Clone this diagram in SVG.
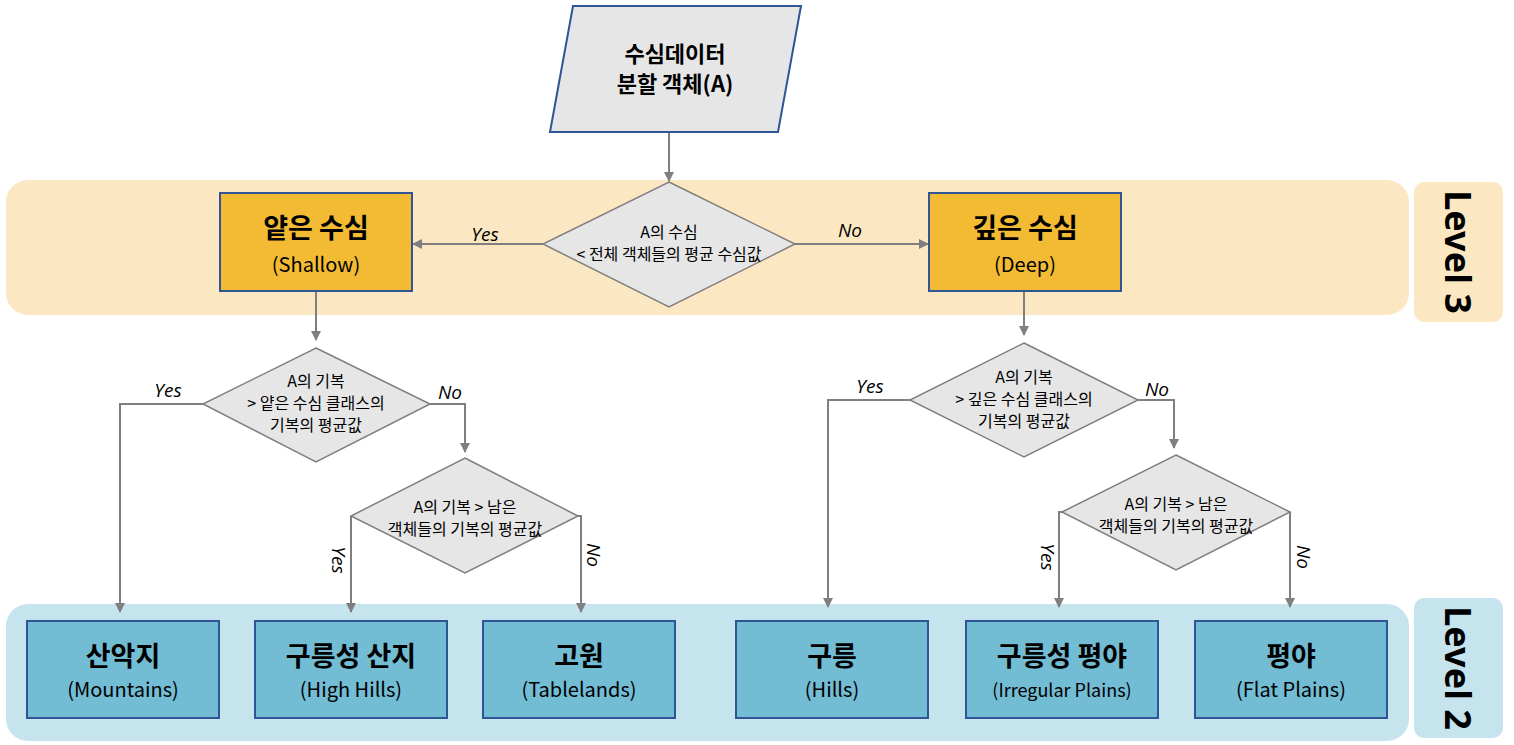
<svg xmlns="http://www.w3.org/2000/svg" width="1514" height="745" viewBox="0 0 1514 745">
<style>
text{font-family:"Noto Sans CJK KR","Noto Sans",sans-serif;text-anchor:middle;fill:#000}
.dia{fill:#e6e6e6;stroke:#7f7f7f;stroke-width:1.5}
.box3{fill:#f2bb33;stroke:#2f5597;stroke-width:2}
.box2{fill:#72bcd4;stroke:#2f5597;stroke-width:2}
.big{font-size:27px;font-weight:bold}
.sub{font-size:20px}
.dt{font-size:16px}
.lbl{font-size:19px;font-style:italic;font-family:"Open Sans","Liberation Sans",sans-serif}
.lvl{font-size:36px;font-weight:bold;font-family:"Noto Sans",sans-serif}
.c{fill:none;stroke:#7f7f7f;stroke-width:2;marker-end:url(#ah)}
</style>
<defs><marker id="ah" markerWidth="10" markerHeight="10" refX="9" refY="5" orient="auto" markerUnits="userSpaceOnUse"><path d="M0,0 L10,5 L0,10 z" fill="#7f7f7f"/></marker></defs>
<g id="bands">
<rect x="6" y="180" width="1403" height="135" rx="22" fill="#fbe8c3"/>
<rect x="1414" y="182" width="89" height="140" rx="10" fill="#fbe8c3"/>
<text class="lvl" transform="translate(1458,252) rotate(90)" dy="13">Level 3</text>
<rect x="6" y="604" width="1403" height="137" rx="22" fill="#c5e4ee"/>
<rect x="1414" y="598" width="89" height="140" rx="10" fill="#c5e4ee"/>
<text class="lvl" transform="translate(1458,668) rotate(90)" dy="13">Level 2</text>
</g>
<g id="connectors">
<path class="c" d="M669,132 V181"/>
<path class="c" d="M543,244 H413"/>
<path class="c" d="M795,244 H928"/>
<path class="c" d="M316,291 V340"/>
<path class="c" d="M203,404 H120 V612"/>
<path class="c" d="M430,404 H465 V452"/>
<path class="c" d="M351,516 V612"/>
<path class="c" d="M578,516 H581 V612"/>
<path class="c" d="M1024,291 V335"/>
<path class="c" d="M910,400 H828 V607"/>
<path class="c" d="M1138,400 H1174 V448"/>
<path class="c" d="M1062,512 H1059 V607"/>
<path class="c" d="M1290,512 V607"/>
<text class="lbl" x="485" y="241">Yes</text>
<text class="lbl" x="850" y="237">No</text>
<text class="lbl" x="168" y="397">Yes</text>
<text class="lbl" x="450" y="399">No</text>
<text class="lbl" x="870" y="393">Yes</text>
<text class="lbl" x="1157" y="396">No</text>
<text class="lbl" transform="translate(338,560) rotate(90)" dy="6">Yes</text>
<text class="lbl" transform="translate(593,555) rotate(90)" dy="6">No</text>
<text class="lbl" transform="translate(1047,557) rotate(90)" dy="6">Yes</text>
<text class="lbl" transform="translate(1303,557) rotate(90)" dy="6">No</text>
</g>
<g id="start">
<polygon points="573,6 801,6 778,132 550,132" fill="#e6e6e6" stroke="#2f5597" stroke-width="2"/>
<text x="675" y="62" font-size="22" font-weight="bold">수심데이터</text>
<text x="675" y="92" font-size="22" font-weight="bold">분할 객체(A)</text>
</g>
<g id="d1"><polygon class="dia" points="669,182 795,244 669,307 543,244"/>
<text class="dt" x="669" y="238">A의 수심</text><text class="dt" x="669" y="260">&lt; 전체 객체들의 평균 수심값</text></g>
<g id="shallow"><rect class="box3" x="220" y="193" width="192" height="98"/>
<text class="big" x="316" y="238">얕은 수심</text><text class="sub" x="316" y="272">(Shallow)</text></g>
<g id="deep"><rect class="box3" x="929" y="193" width="192" height="98"/>
<text class="big" x="1025" y="238">깊은 수심</text><text class="sub" x="1025" y="272">(Deep)</text></g>
<g id="d2"><polygon class="dia" points="316,348 430,404 316,462 203,404"/>
<text class="dt" x="316" y="387">A의 기복</text><text class="dt" x="316" y="409">&gt; 얕은 수심 클래스의</text><text class="dt" x="316" y="431">기복의 평균값</text></g>
<g id="d3"><polygon class="dia" points="465,458 578,516 465,573 351,516"/>
<text class="dt" x="465" y="513">A의 기복 &gt; 남은</text><text class="dt" x="465" y="535">객체들의 기복의 평균값</text></g>
<g id="d4"><polygon class="dia" points="1024,343 1138,400 1024,457 910,400"/>
<text class="dt" x="1024" y="383">A의 기복</text><text class="dt" x="1024" y="405">&gt; 깊은 수심 클래스의</text><text class="dt" x="1024" y="427">기복의 평균값</text></g>
<g id="d5"><polygon class="dia" points="1176,455 1290,512 1176,570 1062,512"/>
<text class="dt" x="1176" y="510">A의 기복 &gt; 남은</text><text class="dt" x="1176" y="532">객체들의 기복의 평균값</text></g>
<g id="n1"><rect class="box2" x="27" y="621" width="192" height="97"/><text class="big" x="123" y="666">산악지</text><text class="sub" x="123" y="697">(Mountains)</text></g>
<g id="n2"><rect class="box2" x="255" y="621" width="192" height="97"/><text class="big" x="351" y="666">구릉성 산지</text><text class="sub" x="351" y="697">(High Hills)</text></g>
<g id="n3"><rect class="box2" x="483" y="621" width="192" height="97"/><text class="big" x="579" y="666">고원</text><text class="sub" x="579" y="697">(Tablelands)</text></g>
<g id="n4"><rect class="box2" x="736" y="621" width="192" height="97"/><text class="big" x="832" y="666">구릉</text><text class="sub" x="832" y="697">(Hills)</text></g>
<g id="n5"><rect class="box2" x="966" y="621" width="192" height="97"/><text class="big" x="1062" y="666">구릉성 평야</text><text x="1062" y="697" font-size="18">(Irregular Plains)</text></g>
<g id="n6"><rect class="box2" x="1195" y="621" width="192" height="97"/><text class="big" x="1291" y="666">평야</text><text class="sub" x="1291" y="697">(Flat Plains)</text></g>
</svg>
